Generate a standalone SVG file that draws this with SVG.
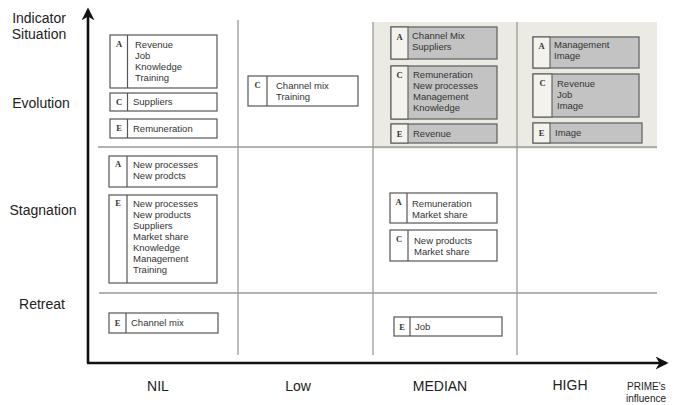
<svg xmlns="http://www.w3.org/2000/svg" width="684" height="405" viewBox="0 0 684 405">
<style>
.lbl{font-family:"Liberation Sans",Arial,sans-serif;font-size:14px;fill:#222}
.sm{font-family:"Liberation Sans",Arial,sans-serif;font-size:10px;fill:#222}
.t{font-family:"Liberation Sans",Arial,sans-serif;font-size:9.5px;fill:#333}
.k{font-family:"Liberation Serif","Times New Roman",serif;font-size:8.5px;font-weight:bold;fill:#333;text-anchor:middle}
.grid{stroke:#9a9a9a;stroke-width:1.3;fill:none}
.box{fill:#fff;stroke:#555;stroke-width:1.2}
.gbox{fill:#c3c3c3;stroke:#666;stroke-width:1.3}
.cell{fill:#f3f2ec;stroke:#666;stroke-width:1.2}
.div{stroke:#555;stroke-width:1.2}
.axis{stroke:#111;stroke-width:2.6;fill:none}
</style>
<defs>
<marker id="ah" viewBox="0 0 10 10" refX="8" refY="5" markerWidth="5" markerHeight="5" orient="auto" markerUnits="strokeWidth">
<path d="M0,0 L10,5 L0,10 L3,5 Z" fill="#111"/>
</marker>
</defs>
<rect x="0" y="0" width="684" height="405" fill="#fff"/>
<rect x="373" y="22" width="284" height="127" fill="#ecebe3"/>
<g id="grid">
<line class="grid" x1="98" y1="147" x2="657" y2="147"/>
<line class="grid" x1="99" y1="293" x2="657" y2="293"/>
<line class="grid" x1="238" y1="20" x2="238" y2="355"/>
<line class="grid" x1="373" y1="22" x2="373" y2="355"/>
<line class="grid" x1="517" y1="22" x2="517" y2="355"/>
</g>
<g id="connectors">
<line class="axis" x1="88" y1="363" x2="88" y2="10" marker-end="url(#ah)"/>
<line class="axis" x1="87" y1="363" x2="666" y2="363" marker-end="url(#ah)"/>
</g>
<g id="y-labels">
<text class="lbl" x="39" y="23" text-anchor="middle">Indicator</text>
<text class="lbl" x="39" y="39" text-anchor="middle">Situation</text>
<text class="lbl" x="41" y="108" text-anchor="middle">Evolution</text>
<text class="lbl" x="43" y="215" text-anchor="middle">Stagnation</text>
<text class="lbl" x="42" y="309" text-anchor="middle">Retreat</text>
</g>
<g id="x-labels">
<text class="lbl" x="158" y="391" text-anchor="middle">NIL</text>
<text class="lbl" x="298" y="391" text-anchor="middle">Low</text>
<text class="lbl" x="440" y="391" text-anchor="middle">MEDIAN</text>
<text class="lbl" x="570" y="390" text-anchor="middle">HIGH</text>
<text class="sm" x="627" y="390">PRIME's</text>
<text class="sm" x="626" y="402">influence</text>
</g>
<g id="nil-evo-a">
<rect class="box" x="110" y="35" width="107" height="53"/>
<line class="div" x1="127.5" y1="35" x2="127.5" y2="88"/>
<text class="k" x="119" y="47">A</text>
<text class="t" x="135" y="48">Revenue</text>
<text class="t" x="135" y="59">Job</text>
<text class="t" x="135" y="70">Knowledge</text>
<text class="t" x="135" y="81">Training</text>
</g>
<g id="nil-evo-c">
<rect class="box" x="110" y="93" width="107" height="18"/>
<line class="div" x1="127.5" y1="93" x2="127.5" y2="111"/>
<text class="k" x="119" y="105">C</text>
<text class="t" x="133" y="105">Suppliers</text>
</g>
<g id="nil-evo-e">
<rect class="box" x="110" y="119" width="107" height="19"/>
<line class="div" x1="127.5" y1="119" x2="127.5" y2="138"/>
<text class="k" x="119" y="131">E</text>
<text class="t" x="133" y="132">Remuneration</text>
</g>
<g id="nil-stag-a">
<rect class="box" x="109" y="156" width="108" height="31"/>
<line class="div" x1="127" y1="156" x2="127" y2="187"/>
<text class="k" x="118" y="167">A</text>
<text class="t" x="133" y="168">New processes</text>
<text class="t" x="133" y="179">New prodcts</text>
</g>
<g id="nil-stag-e">
<rect class="box" x="109" y="195" width="108" height="88"/>
<line class="div" x1="127" y1="195" x2="127" y2="283"/>
<text class="k" x="118" y="206">E</text>
<text class="t" x="133" y="207">New processes</text>
<text class="t" x="133" y="218">New products</text>
<text class="t" x="133" y="229">Suppliers</text>
<text class="t" x="133" y="240">Market share</text>
<text class="t" x="133" y="251">Knowledge</text>
<text class="t" x="133" y="262">Management</text>
<text class="t" x="133" y="273">Training</text>
</g>
<g id="nil-ret-e">
<rect class="box" x="109" y="313" width="109" height="20"/>
<line class="div" x1="126" y1="313" x2="126" y2="333"/>
<text class="k" x="117.5" y="326">E</text>
<text class="t" x="131" y="326">Channel mix</text>
</g>
<g id="low-evo-c">
<rect class="box" x="248" y="76" width="110" height="30"/>
<line class="div" x1="267" y1="76" x2="267" y2="106"/>
<text class="k" x="257.5" y="88">C</text>
<text class="t" x="276" y="89">Channel mix</text>
<text class="t" x="276" y="100">Training</text>
</g>
<g id="med-evo-a">
<rect class="gbox" x="391" y="27" width="106" height="32"/>
<rect class="cell" x="391" y="27" width="17" height="32"/>
<text class="k" x="399.5" y="40">A</text>
<text class="t" x="412" y="39">Channel Mix</text>
<text class="t" x="412" y="50">Suppliers</text>
</g>
<g id="med-evo-c">
<rect class="gbox" x="391" y="66" width="106" height="53"/>
<rect class="cell" x="391" y="66" width="17" height="53"/>
<text class="k" x="399.5" y="78">C</text>
<text class="t" x="413" y="78">Remuneration</text>
<text class="t" x="413" y="89">New processes</text>
<text class="t" x="413" y="100">Management</text>
<text class="t" x="413" y="111">Knowledge</text>
</g>
<g id="med-evo-e">
<rect class="gbox" x="391" y="124" width="106" height="19"/>
<rect class="cell" x="391" y="124" width="17" height="19"/>
<text class="k" x="399.5" y="137">E</text>
<text class="t" x="413" y="137">Revenue</text>
</g>
<g id="high-evo-a">
<rect class="gbox" x="533" y="37" width="106" height="31"/>
<rect class="cell" x="533" y="37" width="17" height="31"/>
<text class="k" x="541.5" y="49">A</text>
<text class="t" x="554" y="48">Management</text>
<text class="t" x="554" y="59">Image</text>
</g>
<g id="high-evo-c">
<rect class="gbox" x="533" y="74" width="106" height="43"/>
<rect class="cell" x="533" y="74" width="19" height="43"/>
<text class="k" x="542.5" y="86">C</text>
<text class="t" x="557" y="87">Revenue</text>
<text class="t" x="557" y="98">Job</text>
<text class="t" x="557" y="109">Image</text>
</g>
<g id="high-evo-e">
<rect class="gbox" x="533" y="123" width="109" height="20"/>
<rect class="cell" x="533" y="123" width="17" height="20"/>
<text class="k" x="541.5" y="136">E</text>
<text class="t" x="555" y="136">Image</text>
</g>
<g id="med-stag-a">
<rect class="box" x="390" y="193" width="107" height="30"/>
<line class="div" x1="407" y1="193" x2="407" y2="223"/>
<text class="k" x="398.5" y="205">A</text>
<text class="t" x="412" y="207">Remuneration</text>
<text class="t" x="412" y="218">Market share</text>
</g>
<g id="med-stag-c">
<rect class="box" x="390" y="230" width="107" height="31"/>
<line class="div" x1="408" y1="230" x2="408" y2="261"/>
<text class="k" x="399" y="242">C</text>
<text class="t" x="414" y="244">New products</text>
<text class="t" x="414" y="255">Market share</text>
</g>
<g id="med-ret-e">
<rect class="box" x="394" y="317" width="108" height="19"/>
<line class="div" x1="410" y1="317" x2="410" y2="336"/>
<text class="k" x="402" y="330">E</text>
<text class="t" x="415" y="330">Job</text>
</g>
</svg>
